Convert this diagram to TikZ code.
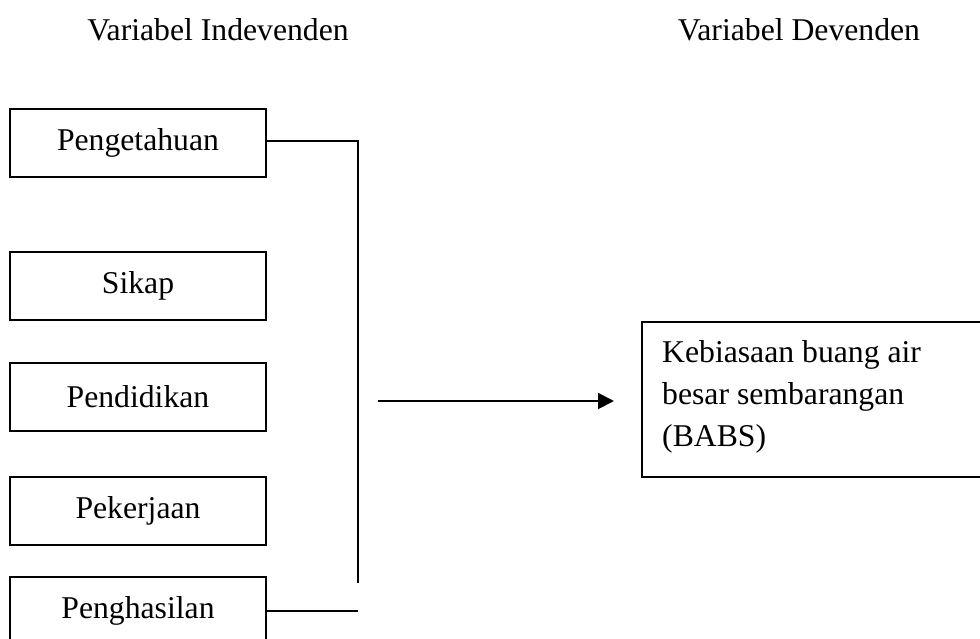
\documentclass[tikz,border=0pt]{standalone}
\usepackage{fontspec}
\setmainfont{Liberation Serif}
\usetikzlibrary{arrows.meta}
\begin{document}
\begin{tikzpicture}[x=1pt,y=-1pt,
  every node/.style={font=\fontsize{31.7}{41}\selectfont, inner sep=0pt},
  varbox/.style={draw, line width=2pt, minimum width=256pt, minimum height=68pt, anchor=center},
  conn/.style={line width=2pt},
  arr/.style={line width=2pt, -{Triangle[length=16pt,width=16pt]}}]
\useasboundingbox (0,0) rectangle (980,639);
\node (h1) at (218,30) {Variabel Indevenden};
\node (h2) at (799,30) {Variabel Devenden};
\node[varbox] (b1) at (138,143) {Pengetahuan};
\node[varbox] (b2) at (138,286) {Sikap};
\node[varbox] (b3) at (138,396.5) {Pendidikan};
\node[varbox] (b4) at (138,510.5) {Pekerjaan};
\node[varbox] (b5) at (138,611) {Penghasilan};
\node[draw, line width=2pt, anchor=north west, minimum width=370pt, minimum height=155pt] (out) at (641,321) {};
\node[anchor=north west, align=left, font=\fontsize{31.7}{42}\selectfont] (outtxt) at (662,340)
      {Kebiasaan buang air\\besar sembarangan\\(BABS)};
\coordinate (c1) at (358,141);
\coordinate (c2) at (358,583);
\coordinate (c3) at (358,611);
\coordinate (a1) at (378,401);
\coordinate (a2) at (614,401);
\draw[conn] (b1.east |- c1) -- (c1) -- (c2);
\draw[conn] (b5.east |- c3) -- (c3);
\draw[arr] (a1) -- (a2);
\end{tikzpicture}
\end{document}
